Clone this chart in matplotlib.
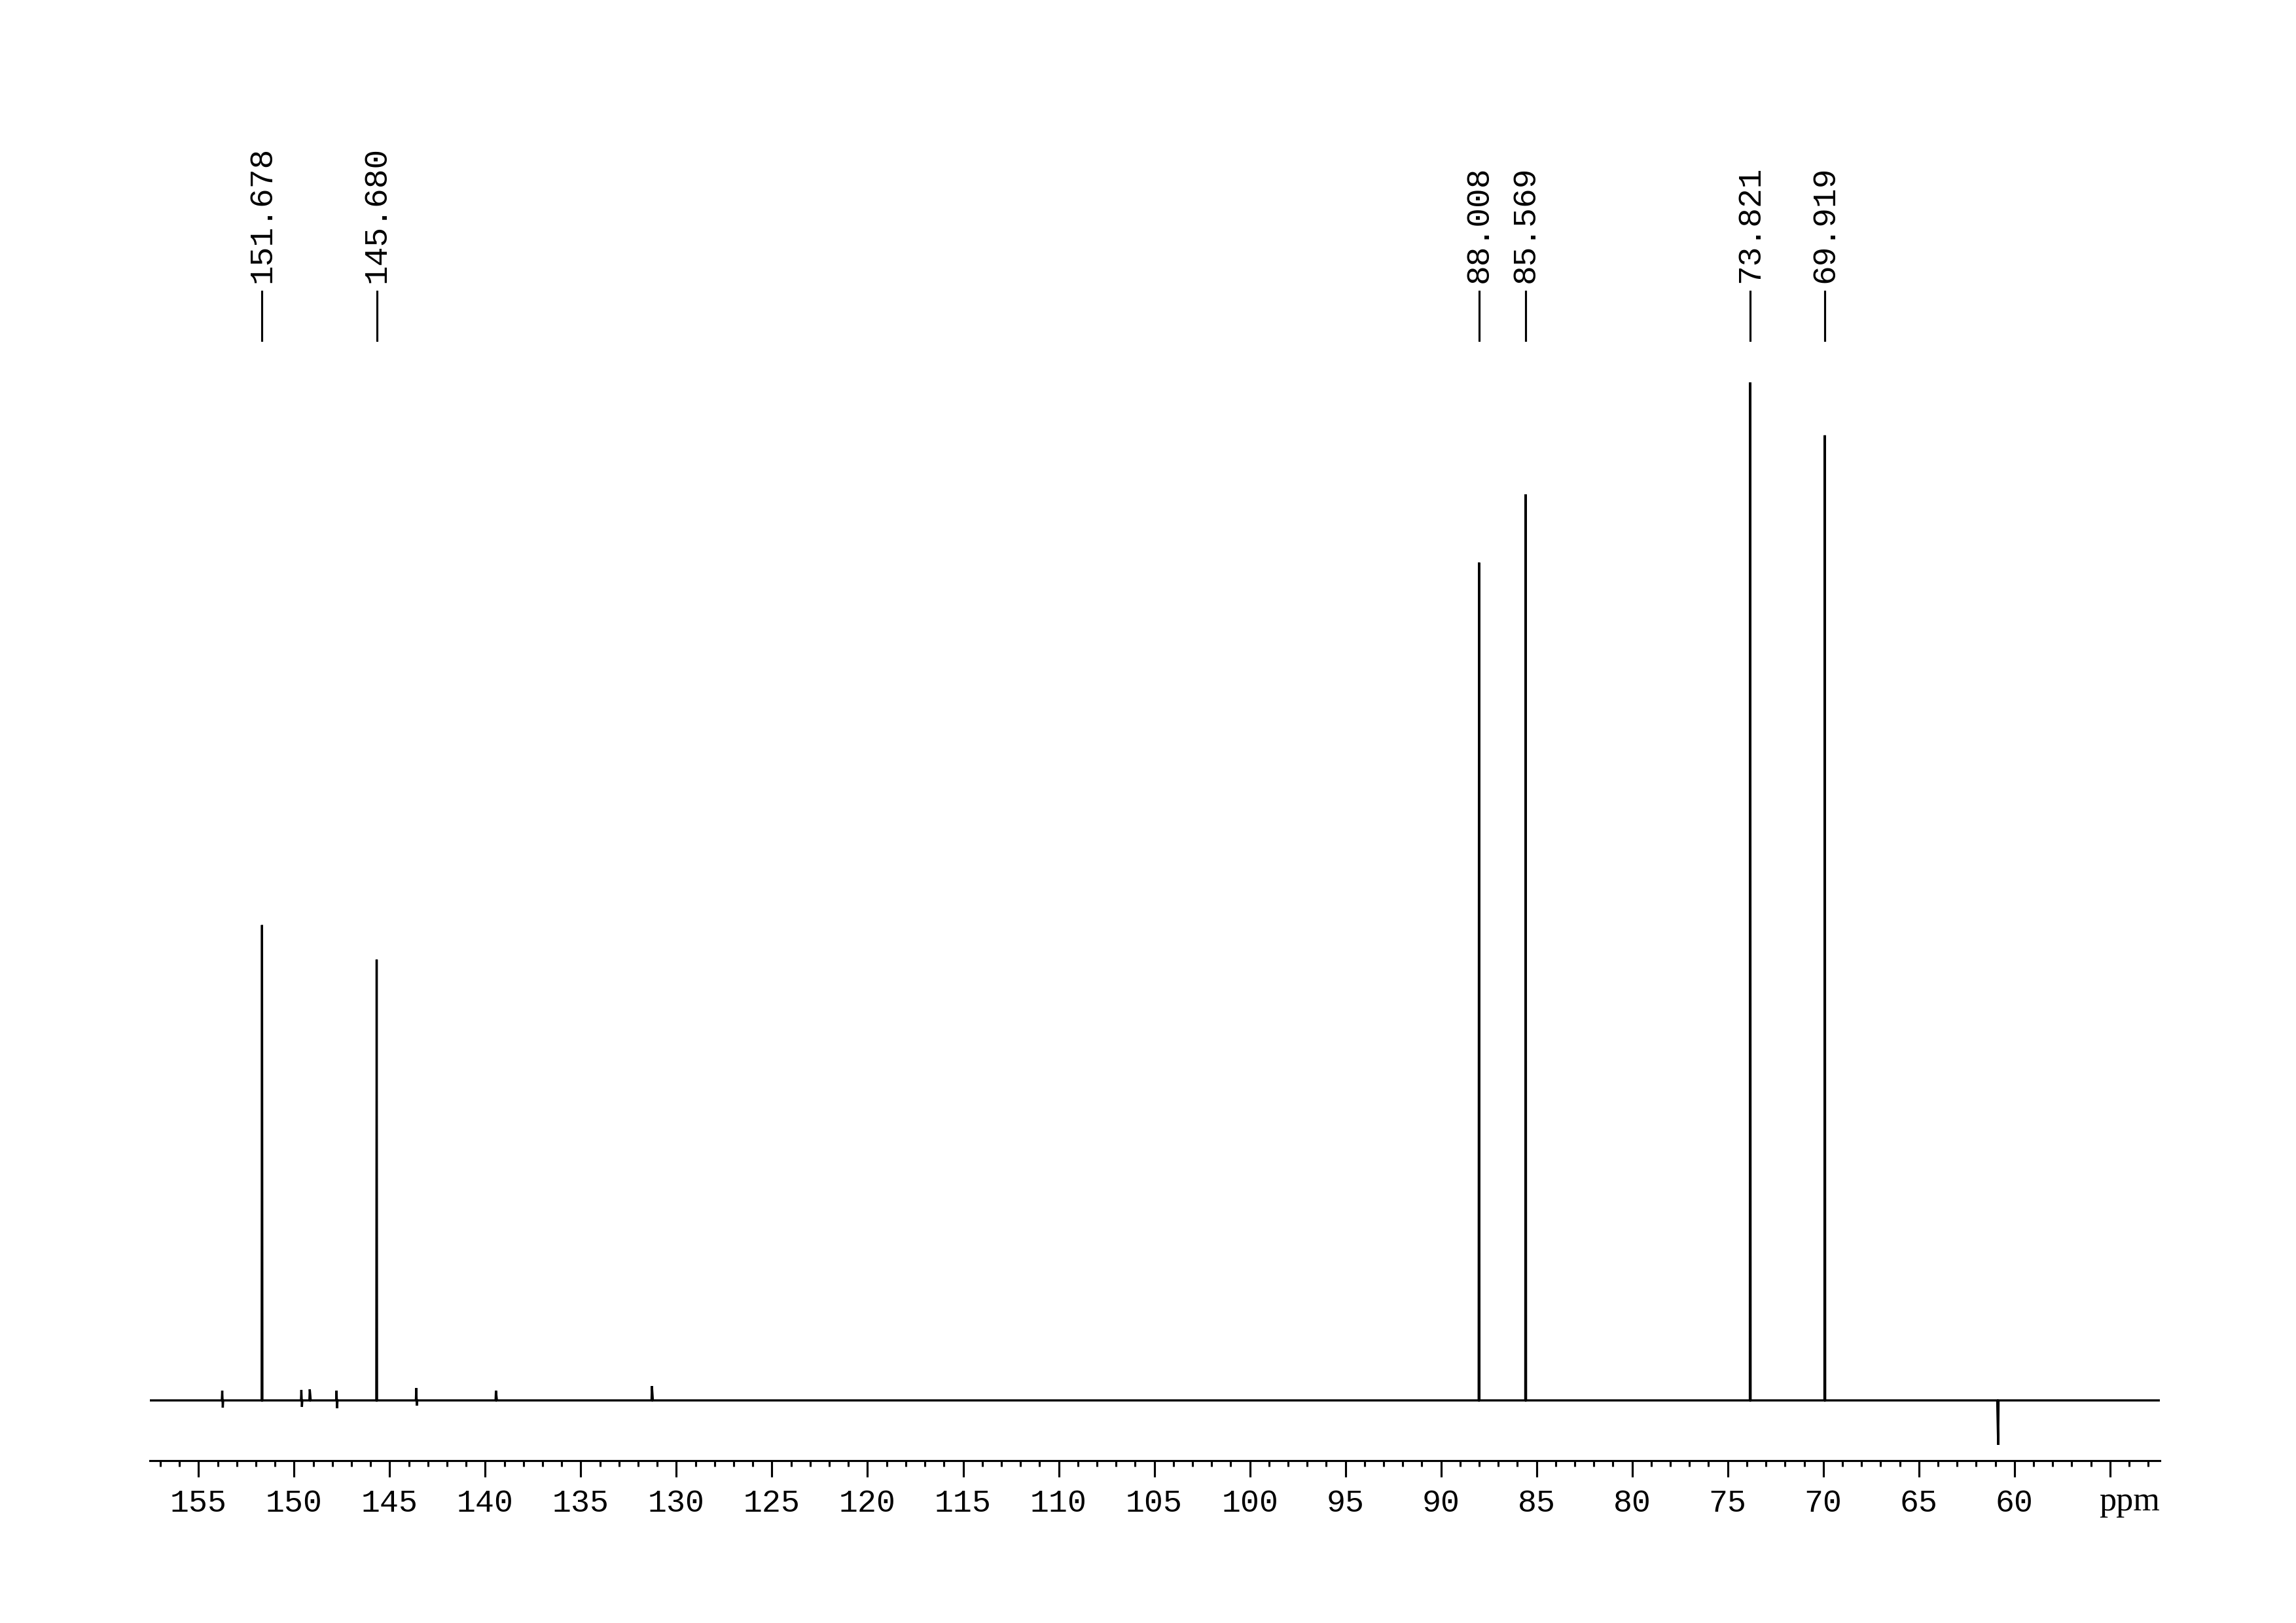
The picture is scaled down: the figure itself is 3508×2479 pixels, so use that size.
import matplotlib
matplotlib.use("Agg")
import matplotlib.pyplot as plt

# ---- data (chemical shift in ppm, relative intensity) ----
label_ppm = [151.678, 145.680, 88.008, 85.569, 73.821, 69.919]
label_text = ["151.678", "145.680", "88.008", "85.569", "73.821", "69.919"]
main_height = [46.7, 43.3, 82.3, 89.0, 100.0, 94.8]

# small (dispersive) peaks: position, positive lobe, negative lobe
small_ppm = [153.76, 149.62, 149.18, 147.78, 143.61, 139.44, 131.28, 60.88]
small_up = [0.96, 1.03, 1.09, 0.96, 1.22, 0.96, 1.41, 0.0]
small_down = [-0.71, -0.64, 0.0, -0.77, -0.51, 0.0, 0.0, -4.37]

xlim = (157.555, 52.38)
major_ticks = list(range(155, 54, -5))
tick_labels = [str(t) if t >= 60 else "" for t in major_ticks]
minor_ticks = list(range(157, 52, -1))

# ---- build the spectrum trace from the peak lists ----
events = []
for p, h in zip(label_ppm, main_height):
    events.append((p, [(p + 0.02, 0.0), (p, h), (p - 0.02, 0.0)]))
for p, u, d in zip(small_ppm, small_up, small_down):
    pts = [(p + 0.02, 0.0)]
    if u != 0.0:
        pts.append((p, u))
    if d != 0.0:
        pts.append((p - 0.03, d))
    pts.append((p - 0.05, 0.0))
    events.append((p, pts))
events.sort(key=lambda e: -e[0])
xs = [xlim[0]]
ys = [0.0]
for _, pts in events:
    for x, y in pts:
        xs.append(x)
        ys.append(y)
xs.append(xlim[1])
ys.append(0.0)

# ---- figure ----
W, H = 3508, 2479
fig = plt.figure(figsize=(W / 300, H / 300), dpi=300)
fig.patch.set_facecolor("white")

ax_left = 228.7 / W
ax_right = 3300.3 / W
ax_bottom = (H - 2231) / H
ax_top = (H - 230) / H
ax = fig.add_axes([ax_left, ax_bottom, ax_right - ax_left, ax_top - ax_bottom])

ax.plot(xs, ys, color="black", linewidth=0.8, solid_joinstyle="miter")

ax.set_xlim(*xlim)
ax.set_ylim(-5.9164, 122.765)

for s in ["top", "left", "right"]:
    ax.spines[s].set_visible(False)
ax.spines["bottom"].set_linewidth(0.75)
ax.set_yticks([])

mono = "Liberation Mono"
ax.set_xticks(major_ticks)
ax.set_xticklabels(tick_labels, fontfamily=mono, fontsize=11.6)
ax.set_xticks(minor_ticks, minor=True)
ax.tick_params(axis="x", which="major", direction="out", length=6.0, width=0.75, pad=4.3)
ax.tick_params(axis="x", which="minor", direction="out", length=2.2, width=0.75)

ax.text(1.0, (2231 - 2307) / 2001, "ppm", transform=ax.transAxes, ha="right",
        va="baseline", fontfamily="Liberation Serif", fontsize=12.5)

# ---- peak labels ----
trans = ax.get_xaxis_transform()
y_line_lo = (2231 - 520) / 2001
y_line_hi = (2231 - 445) / 2001
y_text = (2231 - 432) / 2001
for p, t in zip(label_ppm, label_text):
    ax.plot([p, p], [y_line_lo, y_line_hi], transform=trans, color="black",
            linewidth=0.75, clip_on=False)
    ax.text(p, y_text, t, transform=trans, rotation=90, ha="center", va="bottom",
            fontfamily=mono, fontsize=11.9, clip_on=False)

fig.savefig("out.png", dpi=300, facecolor="white")
